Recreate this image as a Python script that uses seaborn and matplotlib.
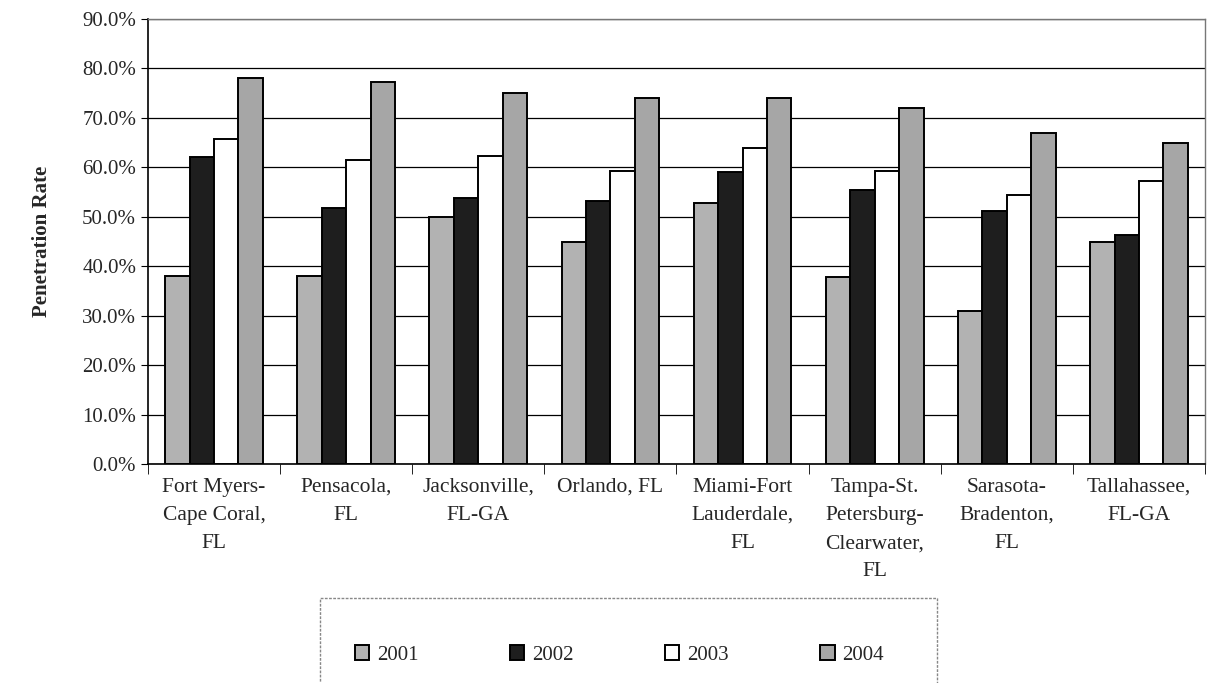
import pandas as pd
import matplotlib
matplotlib.use("Agg")
import matplotlib.pyplot as plt
import seaborn as sns
from matplotlib.patches import Rectangle
from matplotlib.ticker import PercentFormatter, FixedLocator

metros = [
    "Fort Myers-\nCape Coral,\nFL",
    "Pensacola,\nFL",
    "Jacksonville,\nFL-GA",
    "Orlando, FL",
    "Miami-Fort\nLauderdale,\nFL",
    "Tampa-St.\nPetersburg-\nClearwater,\nFL",
    "Sarasota-\nBradenton,\nFL",
    "Tallahassee,\nFL-GA",
]
years = ["2001", "2002", "2003", "2004"]

rate_2001 = [0.380, 0.380, 0.500, 0.449, 0.528, 0.378, 0.309, 0.449]
rate_2002 = [0.621, 0.518, 0.537, 0.532, 0.591, 0.555, 0.511, 0.464]
rate_2003 = [0.658, 0.615, 0.623, 0.593, 0.639, 0.592, 0.544, 0.573]
rate_2004 = [0.780, 0.772, 0.750, 0.740, 0.740, 0.720, 0.669, 0.650]

colors = ["#b2b2b2", "#1e1e1e", "#ffffff", "#a6a6a6"]

df = pd.DataFrame({
    "metro": metros * 4,
    "year": [y for y in years for _ in metros],
    "rate": rate_2001 + rate_2002 + rate_2003 + rate_2004,
})

sns.set_style("white")
plt.rcParams["font.family"] = ["Liberation Serif", "DejaVu Serif"]

fig = plt.figure(figsize=(12.09, 6.83), dpi=100)
ax = fig.add_axes([0.1224, 1 - 464 / 683, 0.8743, (464 - 19) / 683])

sns.barplot(
    data=df, x="metro", y="rate", hue="year", order=metros, hue_order=years,
    palette=colors, width=0.74, edgecolor="black", linewidth=1.4,
    saturation=1, ax=ax, legend=True,
)

ax.set_xlim(-0.5, len(metros) - 0.5)
ax.set_ylim(0, 0.9)
ax.set_yticks([i / 10 for i in range(10)])
ax.yaxis.set_major_formatter(PercentFormatter(1.0, decimals=1))
ax.grid(axis="y", color="black", linewidth=0.9)
ax.set_axisbelow(True)

ax.set_xlabel("")
ax.set_ylabel("Penetration Rate", fontsize=15, fontweight="bold", labelpad=22)
ax.tick_params(axis="y", labelsize=15, length=5, direction="out", color="black", left=True)
ax.tick_params(axis="x", which="major", labelsize=15.5, length=0, pad=10)
ax.xaxis.set_minor_locator(FixedLocator([i + 0.5 for i in range(-1, len(metros))]))
ax.tick_params(axis="x", which="minor", length=7, direction="out", bottom=True, color="black")
for lbl in ax.get_xticklabels():
    lbl.set_linespacing(1.65)

ax.spines["left"].set_color("black")
ax.spines["bottom"].set_color("black")
ax.spines["left"].set_linewidth(1.2)
ax.spines["bottom"].set_linewidth(1.2)
for side in ["top", "right"]:
    ax.spines[side].set_color("#777777")
    ax.spines[side].set_linestyle((0, (1, 1)))
    ax.spines[side].set_linewidth(1.0)

# legend box runs off the bottom edge like the scanned original
fig.patches.append(Rectangle((320 / 1209, -0.05), (937 - 320) / 1209, 0.05 + 1 - 598 / 683,
                             transform=fig.transFigure, fill=False,
                             edgecolor="#888888", linewidth=1.0, linestyle=(0, (2, 1))))

handles, labels = ax.get_legend_handles_labels()
ax.legend_.remove()
fig.legend(
    handles, labels, loc="center left", bbox_to_anchor=(336 / 1209, 1 - 655 / 683),
    ncol=4, frameon=False, fontsize=15, handlelength=0.7,
    handleheight=0.7, handletextpad=0.35, columnspacing=4.4,
)

fig.savefig("out.png", dpi=100)
